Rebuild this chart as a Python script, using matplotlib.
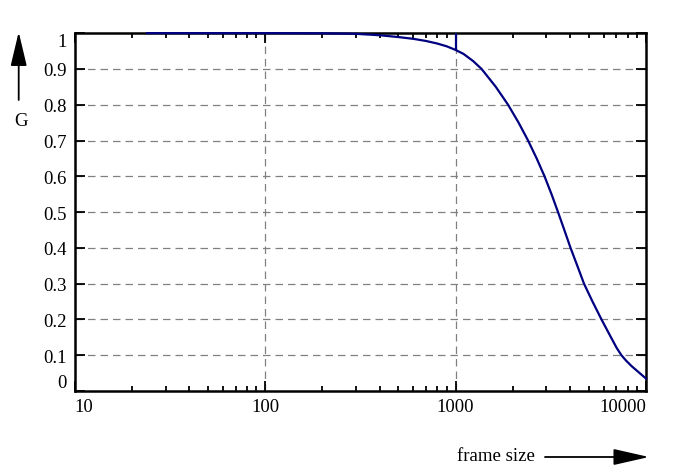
import numpy as np
import matplotlib.pyplot as plt
from matplotlib.ticker import FixedLocator, NullFormatter

plt.rcParams['font.family'] = ['Liberation Serif', 'DejaVu Serif']

# values
frame_size = [24, 100, 200, 300, 400, 500, 600, 700, 800, 900, 1000, 1100,
              1236, 1369, 1626, 1886, 2142, 2403, 2666, 2932, 3191, 3452,
              3725, 4016, 4359, 4726, 5238, 5840, 6551, 7025, 7435, 7863,
              8392, 10000]
G = [1.0, 1.0, 0.9995, 0.998, 0.994, 0.989, 0.984, 0.978, 0.971, 0.963, 0.953, 0.942,
     0.922, 0.900, 0.850, 0.800, 0.750, 0.700, 0.650, 0.600, 0.550, 0.500,
     0.450, 0.400, 0.350, 0.300, 0.250, 0.200, 0.150, 0.120, 0.100, 0.085,
     0.070, 0.035]
marker_x = 1000
y_ticks = [0, 0.1, 0.2, 0.3, 0.4, 0.5, 0.6, 0.7, 0.8, 0.9, 1]
y_labels = ['0', '0.1', '0.2', '0.3', '0.4', '0.5', '0.6', '0.7', '0.8', '0.9', '1']
x_ticks = [10, 100, 1000, 10000]
x_labels = ['10', '100', '1000', '10000']

fig = plt.figure(figsize=(6.98, 4.77), dpi=100)
ax = fig.add_axes([0.107, 0.178, 0.8185, 0.7505])

navy = '#000080'
ax.plot(frame_size, G, color=navy, lw=1.6, zorder=5, clip_on=False,
        solid_joinstyle='round')
ax.vlines(marker_x, np.interp(np.log10(marker_x), np.log10(frame_size), G), 1.0,
          color=navy, lw=1.6, zorder=5)

ax.set_xscale('log')
ax.set_xlim(10, 10000)
ax.set_ylim(0, 1)

ax.xaxis.set_major_locator(FixedLocator(x_ticks))
ax.set_xticklabels(x_labels)
minors = [m * 10**e for e in range(1, 4) for m in range(2, 10)]
ax.xaxis.set_minor_locator(FixedLocator(minors))
ax.xaxis.set_minor_formatter(NullFormatter())
ax.set_yticks(y_ticks)
ax.set_yticklabels(y_labels)

ax.tick_params(which='major', direction='in', length=7, width=1.3,
               top=True, right=True, labelsize=13.5, pad=6)
ax.tick_params(which='minor', direction='in', length=3.5, width=1.3,
               top=True, right=False)
ax.tick_params(axis='x', which='major', pad=5)

# edge labels pulled inward like the original
xl = ax.get_xticklabels()
xl[0].set_ha('left')
xl[-1].set_ha('right')
yl = ax.get_yticklabels()
yl[0].set_va('bottom')
yl[-1].set_va('top')

for s in ax.spines.values():
    s.set_linewidth(1.8)

# dashed grid, skipping the frame edges
for yv in y_ticks[1:-1]:
    ax.axhline(yv, color='#808080', lw=0.9, ls=(0, (6, 4)), zorder=1)
for xv in x_ticks[1:-1]:
    ax.axvline(xv, color='#808080', lw=0.9, ls=(0, (6, 4)), zorder=1)

# axis names with arrows
fig.text(21 / 698, 1 - 122 / 477, 'G', fontsize=13.5, ha='center', va='center')
ax.annotate('', xy=(18.7 / 698, 1 - 33 / 477), xytext=(18.7 / 698, 1 - 101 / 477),
            xycoords='figure fraction',
            arrowprops=dict(arrowstyle='-|>,head_length=2.1,head_width=0.5',
                            color='black', lw=1.3, shrinkA=0, shrinkB=0))
fig.text(535 / 698, 1 - 457 / 477, 'frame size', fontsize=13.5, ha='right', va='center')
ax.annotate('', xy=(649 / 698, 1 - 458 / 477), xytext=(545 / 698, 1 - 458 / 477),
            xycoords='figure fraction',
            arrowprops=dict(arrowstyle='-|>,head_length=2.2,head_width=0.5',
                            color='black', lw=1.3, shrinkA=0, shrinkB=0))

fig.savefig('out.png', dpi=100)
